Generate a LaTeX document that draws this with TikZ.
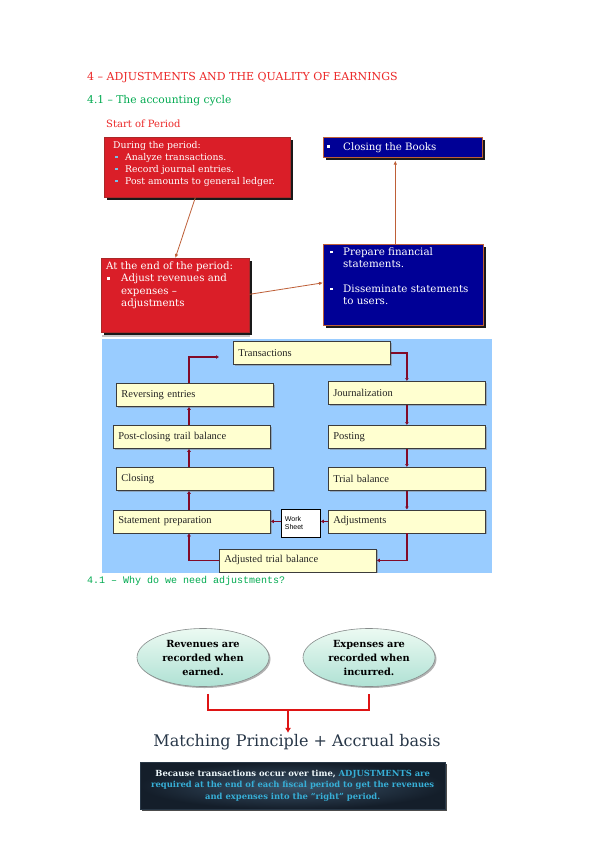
\documentclass[tikz,border=0pt]{standalone}
\usepackage{fontspec}
\setmainfont{DejaVu Serif}
\newfontfamily\garfont{Liberation Serif}
\newfontfamily\wsfont{Liberation Sans}
\newfontfamily\mofont{Liberation Mono}
\usetikzlibrary{shadows,arrows.meta,calc,shapes.geometric}
\definecolor{titred}{RGB}{236,40,40}
\definecolor{secgreen}{RGB}{0,170,80}
\definecolor{boxred}{RGB}{218,30,40}
\definecolor{boxblue}{RGB}{0,0,150}
\definecolor{brownc}{RGB}{190,95,55}
\definecolor{cycbg}{RGB}{153,204,255}
\definecolor{cream}{RGB}{255,255,208}
\definecolor{cycline}{RGB}{130,10,40}
\definecolor{cyctext}{RGB}{35,35,35}
\definecolor{lightbul}{RGB}{120,190,230}
\definecolor{ellin}{RGB}{236,250,242}
\definecolor{ellout}{RGB}{175,225,212}
\definecolor{conred}{RGB}{222,20,20}
\definecolor{matchc}{RGB}{40,55,72}
\definecolor{darkin}{RGB}{58,82,104}
\definecolor{darkout}{RGB}{20,30,42}
\definecolor{cyanb}{RGB}{55,175,215}
\newcommand\sqb[1]{\textcolor{#1}{\rule[0.22em]{2.3pt}{2.3pt}}}
\begin{document}
\begin{tikzpicture}[x=1pt,y=-1pt,
  pbox/.style={anchor=north west, inner sep=0pt, line width=0.6pt,
    drop shadow={shadow xshift=3pt, shadow yshift=-3pt, fill=black, opacity=0.9}},
  redbox/.style={pbox, fill=boxred, draw={rgb,255:red,170;green,40;blue,40}},
  bluebox/.style={pbox, fill=boxblue, draw=brownc},
  btxt/.style={anchor=north west, inner sep=0pt, align=left, text=white},
  conn/.style={draw=brownc, line width=0.8pt, -{Latex[length=4pt,width=3.5pt]}},
  cyc/.style={anchor=north west, draw={rgb,255:red,60;green,60;blue,60}, line width=0.8pt,
    fill=cream, inner xsep=5pt, inner ysep=0pt, text width=147pt, minimum height=23pt,
    align=left, text=cyctext, font=\garfont\fontsize{10.5}{12}\selectfont,
    drop shadow={shadow xshift=1.2pt, shadow yshift=-1.2pt, fill=gray, opacity=0.5}},
  cycarr/.style={draw=cycline, line width=1.5pt, -{Latex[length=3pt,width=4pt]}},
  ell/.style={ellipse, draw={rgb,255:red,135;green,140;blue,140}, line width=0.6pt,
    top color=ellin, bottom color=ellout, minimum width=132pt, minimum height=58pt,
    inner sep=0pt, align=center, font=\bfseries\fontsize{9.8}{14}\selectfont,
    drop shadow={shadow xshift=1.5pt, shadow yshift=-1.5pt, fill=gray, opacity=0.6}},
  head/.style={anchor=base west, inner sep=0pt}
]
\useasboundingbox (0,0) rectangle (599,848);
\fill[white] (0,0) rectangle (599,848);

% headings
\node[head, text=titred, font=\fontsize{11}{12}\selectfont] (title) at (87,81)
  {4 – ADJUSTMENTS AND THE QUALITY OF EARNINGS};
\node[head, text=secgreen, font=\fontsize{10.7}{12}\selectfont] (sec1) at (87,103)
  {4.1 – The accounting cycle};
\node[head, text=titred, font=\fontsize{10}{12}\selectfont] (start) at (106,128)
  {Start of Period};

% red / blue boxes
\node[redbox, minimum width=186pt, minimum height=60pt] (rb1) at (104,137) {};
\node[btxt, font=\fontsize{9.3}{12}\selectfont] (rb1t) at (113,141)
  {During the period:\\
   \hspace*{2pt}\makebox[10pt][l]{\sqb{lightbul}}Analyze transactions.\\
   \hspace*{2pt}\makebox[10pt][l]{\sqb{lightbul}}Record journal entries.\\
   \hspace*{2pt}\makebox[10pt][l]{\sqb{lightbul}}Post amounts to general ledger.};

\node[bluebox, minimum width=159pt, minimum height=20pt] (bb1) at (323,137) {};
\node[anchor=base west, inner sep=0pt, text=white, font=\fontsize{10.2}{12}\selectfont] (bb1t) at (327,150)
  {\makebox[16pt][l]{\sqb{white}}Closing the Books};

\node[redbox, minimum width=148pt, minimum height=74pt] (rb2) at (101,258) {};
\node[btxt, font=\fontsize{10.2}{12.4}\selectfont] (rb2t) at (106,261.5)
  {At the end of the period:\\
   \hspace*{1pt}\makebox[14pt][l]{\sqb{white}}Adjust revenues and\\
   \hspace*{15pt}expenses –\\
   \hspace*{15pt}adjustments};

\node[bluebox, minimum width=160pt, minimum height=81pt] (bb2) at (323,244) {};
\node[btxt, font=\fontsize{10.3}{12.3}\selectfont] (bb2t) at (330,247.5)
  {\makebox[13pt][l]{\sqb{white}}Prepare financial\\
   \hspace*{13pt}statements.\\[12.3pt]
   \makebox[13pt][l]{\sqb{white}}Disseminate statements\\
   \hspace*{13pt}to users.};

\draw[conn] ([xshift=-2pt]rb1.south) -- (rb2.north);
\draw[conn] ([yshift=1pt]rb2.east) -- ([yshift=2pt]bb2.west);
\draw[conn] ([xshift=-8pt]bb2.north) -- ([xshift=-7.5pt,yshift=-3pt]bb1.south);

% accounting cycle
\fill[gray!45] (102,335.2) rectangle (250,337.2);
\fill[cycbg] (102,339) rectangle (492,573);
\coordinate (lc) at (189,400);

\node[cyc] (tr) at (233,341) {Transactions};
\node[cyc] (re) at (116,383) {Reversing entries};
\node[cyc] (jo) at (328,381) {Journalization};
\node[cyc] (pc) at (113,425) {Post-closing trail balance};
\node[cyc] (po) at (328,425) {Posting};
\node[cyc] (cl) at (116,467) {Closing};
\node[cyc] (tb) at (328,467) {Trial balance};
\node[cyc] (sp) at (113,509.5) {Statement preparation};
\node[cyc] (ad) at (328,509.5) {Adjustments};
\node[cyc] (atb) at (219,548.5) {Adjusted trial balance};
\node[anchor=north west, draw=black, line width=0.8pt, fill=white, minimum height=28pt,
  inner xsep=3.5pt, inner ysep=0pt, text width=32pt, align=left,
  font=\wsfont\fontsize{7}{8}\selectfont,
  drop shadow={shadow xshift=1pt, shadow yshift=-1pt, fill=gray, opacity=0.5}] (ws) at (281,509) {Work\\Sheet};
\coordinate (rt) at (219,357);

\draw[cycarr] (tr.east) -| (jo.north);
\draw[cycarr] (jo.south) -- (po.north);
\draw[cycarr] (po.south) -- (tb.north);
\draw[cycarr] (tb.south) -- (ad.north);
\draw[cycarr] (ad.south) |- (atb.east);
\draw[cycarr] (atb.west) -| (sp.south -| lc);
\draw[cycarr] (sp.north -| lc) -- (cl.south -| lc);
\draw[cycarr] (cl.north -| lc) -- (pc.south -| lc);
\draw[cycarr] (pc.north -| lc) -- (re.south -| lc);
\draw[cycarr] (re.north -| lc) |- (rt);
\draw[cycarr] (ad.west) -- (ws.east |- ad.west);
\draw[cycarr] (ws.west |- sp.east) -- (sp.east);

% why adjustments
\node[head, text=secgreen, font=\mofont\fontsize{10}{12}\selectfont] (sec2) at (87,583)
  {4.1 – Why do we need adjustments?};

\node[ell] (e1) at (203,657.5) {Revenues are\\recorded when\\earned.};
\node[ell] (e2) at (369,657.5) {Expenses are\\recorded when\\incurred.};

\node[text=matchc, inner sep=0pt, font=\fontsize{16}{18}\selectfont] (mp) at (297,742)
  {Matching Principle + Accrual basis};

\coordinate (j) at (288,710);
\draw[conred, line width=2pt] ([xshift=5pt,yshift=-7pt]e1.south) |- (j) -| ([yshift=-7pt]e2.south);
\draw[conred, line width=2pt, -{Latex[length=5pt,width=6pt]}] (j) -- ([yshift=1pt]j |- mp.north);

\node[anchor=north west, minimum width=305pt, minimum height=47pt, inner sep=0pt,
  inner color=darkin, outer color=darkout, draw={rgb,255:red,40;green,55;blue,70}, line width=0.4pt,
  drop shadow={shadow xshift=2pt, shadow yshift=-2pt, fill=black, opacity=0.7}] (db) at (140,762) {};
\node[inner sep=0pt, align=center, text=cyanb, font=\bfseries\fontsize{8.4}{11.6}\selectfont] (dbt) at (db.center)
  {\textcolor{white!92!cyanb}{Because transactions occur over time,} ADJUSTMENTS are\\
   required at the end of each fiscal period to get the revenues\\
   and expenses into the “right” period.};
\end{tikzpicture}
\end{document}
